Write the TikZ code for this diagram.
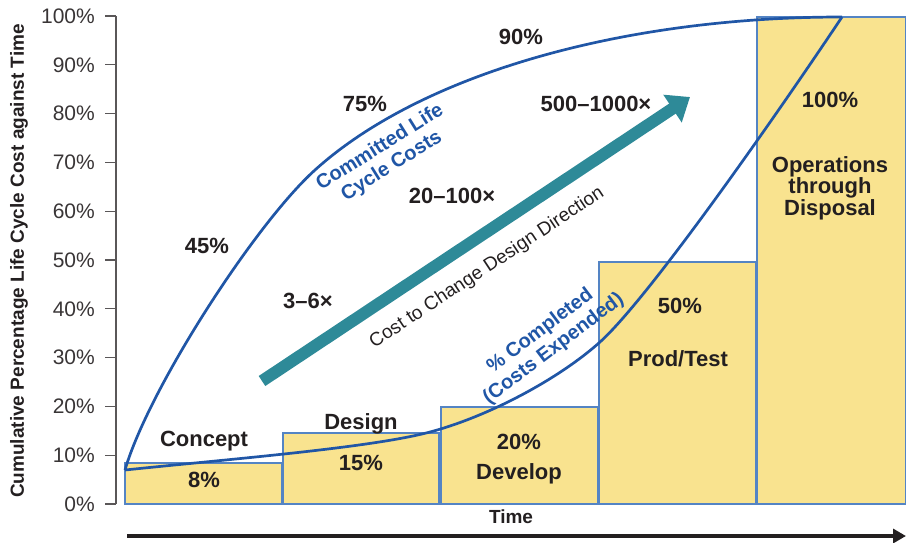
\documentclass[tikz,border=0pt]{standalone}
\usepackage{fontspec}
\setmainfont{Liberation Sans}
\usetikzlibrary{arrows.meta}
\definecolor{barfill}{RGB}{249,227,143}
\definecolor{barline}{RGB}{84,132,196}
\definecolor{curveblue}{RGB}{32,86,166}
\definecolor{teal}{RGB}{46,138,152}
\definecolor{ink}{RGB}{35,31,32}
\begin{document}
\begin{tikzpicture}[x=1pt, y=-1pt,
  lbl/.style={font=\fontsize{22}{20.5}\selectfont\bfseries, text=ink, inner sep=0pt, align=center},
  tick/.style={font=\fontsize{21}{23}\selectfont, text=ink!90, anchor=east, inner sep=0pt},
  axis/.style={draw=ink!75, line width=1.1pt},
  bar/.style={fill=barfill, draw=barline, line width=1.3pt},
  curve/.style={draw=curveblue, line width=2.7pt},
  note/.style={font=\fontsize{20}{22}\selectfont\bfseries, text=curveblue, align=center, inner sep=0pt}]
\useasboundingbox (0,0) rectangle (906,542);

% bars
\foreach \l/\r/\t in {125/282/463, 283/439/433, 441/598/407, 599/756/262, 757/906/17}
  \draw[bar] (\l,504) rectangle (\r,\t);

% y axis
\draw[axis] (116,16) -- (116,504);
\foreach \p in {0,...,10}{
  \pgfmathsetmacro\yy{504-48.8*\p}
  \pgfmathtruncatemacro\pc{10*\p}
  \draw[axis] (105,\yy) -- (116,\yy);
  \node[tick] (t\p) at (95,\yy) {\pc\%};
}
\node[font=\fontsize{19}{21}\selectfont\bfseries, text=ink, rotate=90, inner sep=0pt] (ytitle) at (19,261)
  {Cumulative Percentage Life Cycle Cost against Time};

% curves
\coordinate (start) at (125,470);
\coordinate (full) at (842,17);
\draw[curve] (start) .. controls (148,390) and (255,224) .. (315,170)
                     .. controls (420,75) and (620,17) .. (full);
\draw[curve] (start) .. controls (230,459) and (370,448) .. (430,432)
                     .. controls (490,416) and (560,378) .. (600,342)
                     .. controls (650,297) and (782,107) .. (full);

% cost to change arrow
\coordinate (tailT) at (262,381);
\coordinate (headT) at (690,97);
\draw[teal, line width=12pt, -{Triangle[width=32pt,length=21pt]}] (tailT) -- (headT);
\node[font=\fontsize{19}{21}\selectfont, text=ink, rotate=33.5, inner sep=0pt] (costdir) at (487,268)
  {Cost to Change Design Direction};

% time arrow
\coordinate (tstart) at (127,536);
\coordinate (tend) at (906,536);
\draw[ink, line width=4pt, -{Triangle[width=14pt,length=13pt]}] (tstart) -- (tend);
\node[lbl, font=\fontsize{19}{21}\selectfont\bfseries] (time) at (511,517) {Time};

% curve labels
\node[note, rotate=32] (committed) at (386,157) {Committed Life\\Cycle Costs};
\node[note, rotate=37] (completed) at (547,340) {\% Completed\\(Costs Expended)};

% values
\node[lbl] (c45) at (207,246) {45\%};
\node[lbl] (c75) at (365,104) {75\%};
\node[lbl] (c90) at (521,37) {90\%};
\node[lbl] (f3) at (308,301) {3–6×};
\node[lbl] (f20) at (452,196) {20–100×};
\node[lbl] (f500) at (596,104) {500–1000×};

% phases
\node[lbl] (concept) at (204,441) {Concept};
\node[lbl] (p8) at (204,480) {8\%};
\node[lbl] (design) at (361,424) {Design};
\node[lbl] (p15) at (361,463) {15\%};
\node[lbl] (p20) at (519,442) {20\%};
\node[lbl] (develop) at (519,474) {Develop};
\node[lbl] (p50) at (680,306) {50\%};
\node[lbl] (prodtest) at (678,359) {Prod/Test};
\node[lbl] (p100) at (830,100) {100\%};
\node[lbl] (ops) at (830,188) {Operations\\through\\Disposal};
\end{tikzpicture}
\end{document}
